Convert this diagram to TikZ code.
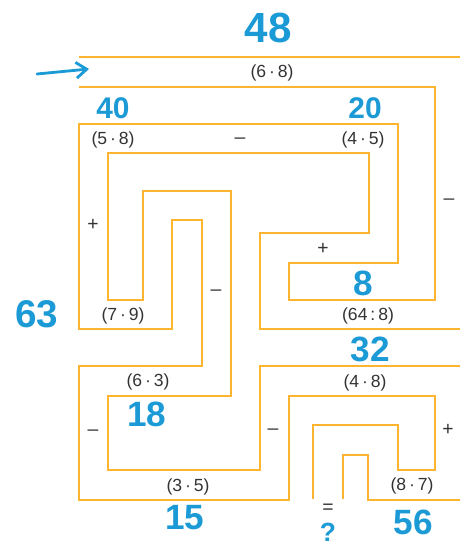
\documentclass[tikz,border=0pt]{standalone}
\usepackage{fontspec}
\setmainfont{Liberation Sans}
\usetikzlibrary{arrows.meta}
\definecolor{mazeorange}{HTML}{FDB52F}
\definecolor{chalkblue}{HTML}{1B9AD6}

\begin{document}
\begin{tikzpicture}[
    x=0.02cm, y=-0.02cm,
    wall/.style={draw=mazeorange, line width=1.1pt},
    term/.style={font=\fontsize{10}{11}\selectfont, text=black!80, inner sep=0pt},
    sgn/.style={font=\fontsize{11}{12}\selectfont, text=black!80, inner sep=0pt},
    res/.style={font=\fontsize{#1}{#1}\selectfont\bfseries, text=chalkblue, inner sep=0pt},
    res/.default=20,
    arr/.style={-{Straight Barb[length=6pt, width=9pt]}, draw=chalkblue, line width=1.6pt, line cap=round},
]
    \useasboundingbox (0,0) rectangle (460,546);

    % maze walls
    \draw[wall] (79,57) -- (460,57);
    \draw[wall] (79,87) -- (435,87) -- (435,300) -- (289,300) -- (289,263) -- (398,263)
        -- (398,124) -- (79,124) -- (79,329) -- (172,329) -- (172,220) -- (202,220)
        -- (202,366) -- (79,366) -- (79,500) -- (289,500) -- (289,396) -- (435,396)
        -- (435,470) -- (398,470) -- (398,425) -- (313,425) -- (313,499);
    \draw[wall] (460,329) -- (260,329) -- (260,233) -- (369,233) -- (369,153) -- (108,153)
        -- (108,300) -- (143,300) -- (143,191) -- (231,191) -- (231,396) -- (108,396)
        -- (108,470) -- (260,470) -- (260,366) -- (460,366);
    \draw[wall] (343,499) -- (343,455) -- (368,455) -- (368,500) -- (460,500);

    % entrance
    \coordinate (in0) at (37,74);
    \coordinate (in1) at (89,69);
    \draw[arr] (in0) -- (in1);

    % products along the path
    \node[term] (t68) at (272,73) {(6\,·\,8)};
    \node[term] (t58) at (113,140) {(5\,·\,8)};
    \node[term] (t45) at (363,140) {(4\,·\,5)};
    \node[term] (t79) at (123,316) {(7\,·\,9)};
    \node[term] (t648) at (368,316) {(64\,:\,8)};
    \node[term] (t63) at (148,382) {(6\,·\,3)};
    \node[term] (t48) at (365,383) {(4\,·\,8)};
    \node[term] (t35) at (188,487) {(3\,·\,5)};
    \node[term] (t87) at (412,486) {(8\,·\,7)};

    % signs
    \node[sgn] (s1) at (240,141) {–};
    \node[sgn] (s2) at (449,202) {–};
    \node[sgn] (s3) at (93,225) {+};
    \node[sgn] (s4) at (323,249) {+};
    \node[sgn] (s5) at (216,293) {–};
    \node[sgn] (s6) at (93,433) {–};
    \node[sgn] (s7) at (273,432) {–};
    \node[sgn] (s8) at (448,430) {+};
    \node[sgn] (eq) at (328,509) {=};

    % results
    \node[res=24] (r48) at (268,28) {48};
    \node[res=17] (r40) at (113,108) {40};
    \node[res=17] (r20) at (365,108) {20};
    \node[res] (r8) at (363,283) {8};
    \node[res=22] (r63) at (37,314) {63};
    \node[res] (r32) at (370,349) {32};
    \node[res] (r18) at (147,414) {18};
    \node[res] (r15) at (185,518) {15};
    \node[res] (r56) at (413,522) {56};
    \node[res=15] (q) at (328,532) {?};
\end{tikzpicture}
\end{document}
